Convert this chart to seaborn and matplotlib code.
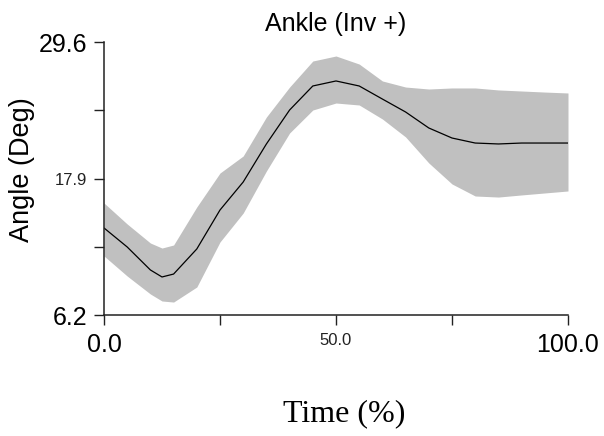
import matplotlib
matplotlib.use("Agg")
import matplotlib.pyplot as plt
import seaborn as sns
import pandas as pd

# Data
time_pct = [0, 5, 10, 12.5, 15, 20, 25, 30, 35, 40, 45, 50, 55, 60, 65, 70, 75, 80, 85, 90, 95, 100]
mean_angle = [13.66, 12.03, 10.06, 9.46, 9.71, 11.86, 15.2, 17.6, 20.86, 23.77, 25.83, 26.26,
              25.83, 24.71, 23.6, 22.23, 21.37, 20.94, 20.86, 20.94, 20.94, 20.94]
upper_angle = [15.8, 14.0, 12.37, 11.94, 12.2, 15.46, 18.37, 19.83, 23.17, 25.74, 27.97, 28.4,
               27.71, 26.26, 25.74, 25.57, 25.66, 25.66, 25.49, 25.4, 25.31, 25.23]
lower_angle = [11.26, 9.54, 8.0, 7.4, 7.31, 8.6, 12.46, 14.94, 18.54, 21.8, 23.77, 24.37,
               24.2, 23.0, 21.46, 19.23, 17.43, 16.4, 16.31, 16.49, 16.66, 16.83]

x_ticks = [0, 25, 50, 75, 100]
x_tick_labels = ["0.0", "", "50.0", "", "100.0"]
y_ticks = [6.2, 12.05, 17.9, 23.75, 29.6]
y_tick_labels = ["6.2", "", "17.9", "", "29.6"]

title = "Ankle (Inv +)"
x_label = "Time (%)"
y_label = "Angle (Deg)"

df = pd.DataFrame({"time": time_pct, "mean": mean_angle, "upper": upper_angle, "lower": lower_angle})

sns.set_style("white")
plt.rcParams["font.family"] = ["Liberation Sans", "DejaVu Sans"]

fig = plt.figure(figsize=(6.04, 4.36), dpi=100)
ax = fig.add_axes([104 / 604, 1 - 315 / 436, 464 / 604, 273 / 436])

ax.fill_between(df["time"], df["lower"], df["upper"], color="#c0c0c0", linewidth=0, zorder=1)
sns.lineplot(data=df, x="time", y="mean", ax=ax, color="black", linewidth=0.9, zorder=2)

ax.set_xlim(0, 100)
ax.set_ylim(6.2, 29.6)
for side in ["top", "right"]:
    ax.spines[side].set_visible(False)
for side in ["left", "bottom"]:
    ax.spines[side].set_color("#222222")
    ax.spines[side].set_linewidth(1.1)

ax.set_xticks(x_ticks)
ax.set_xticklabels(x_tick_labels)
ax.set_yticks(y_ticks)
ax.set_yticklabels(y_tick_labels)
ax.tick_params(axis="both", direction="out", length=7, width=1, color="#222222",
               bottom=True, left=True)
ax.tick_params(axis="y", pad=5)
ax.tick_params(axis="x", pad=6)

for lab in ax.get_xticklabels() + ax.get_yticklabels():
    txt = lab.get_text()
    if txt in ("50.0", "17.9"):
        lab.set_fontsize(12)
        lab.set_color("#222222")
    else:
        lab.set_fontsize(18)
        lab.set_color("black")

ax.set_title(title, fontsize=18, y=1.066, va="center", pad=0, color="black")
ax.set_xlabel(x_label, fontsize=23, family=["Liberation Serif", "DejaVu Serif"], color="black")
ax.xaxis.set_label_coords(0.517, -0.36)
ax.xaxis.label.set_va("center")
ax.set_ylabel(y_label, fontsize=19.5, color="black")
ax.yaxis.set_label_coords(-0.176, 0.531)
ax.yaxis.label.set_va("center")

fig.savefig("out.png", dpi=100)
